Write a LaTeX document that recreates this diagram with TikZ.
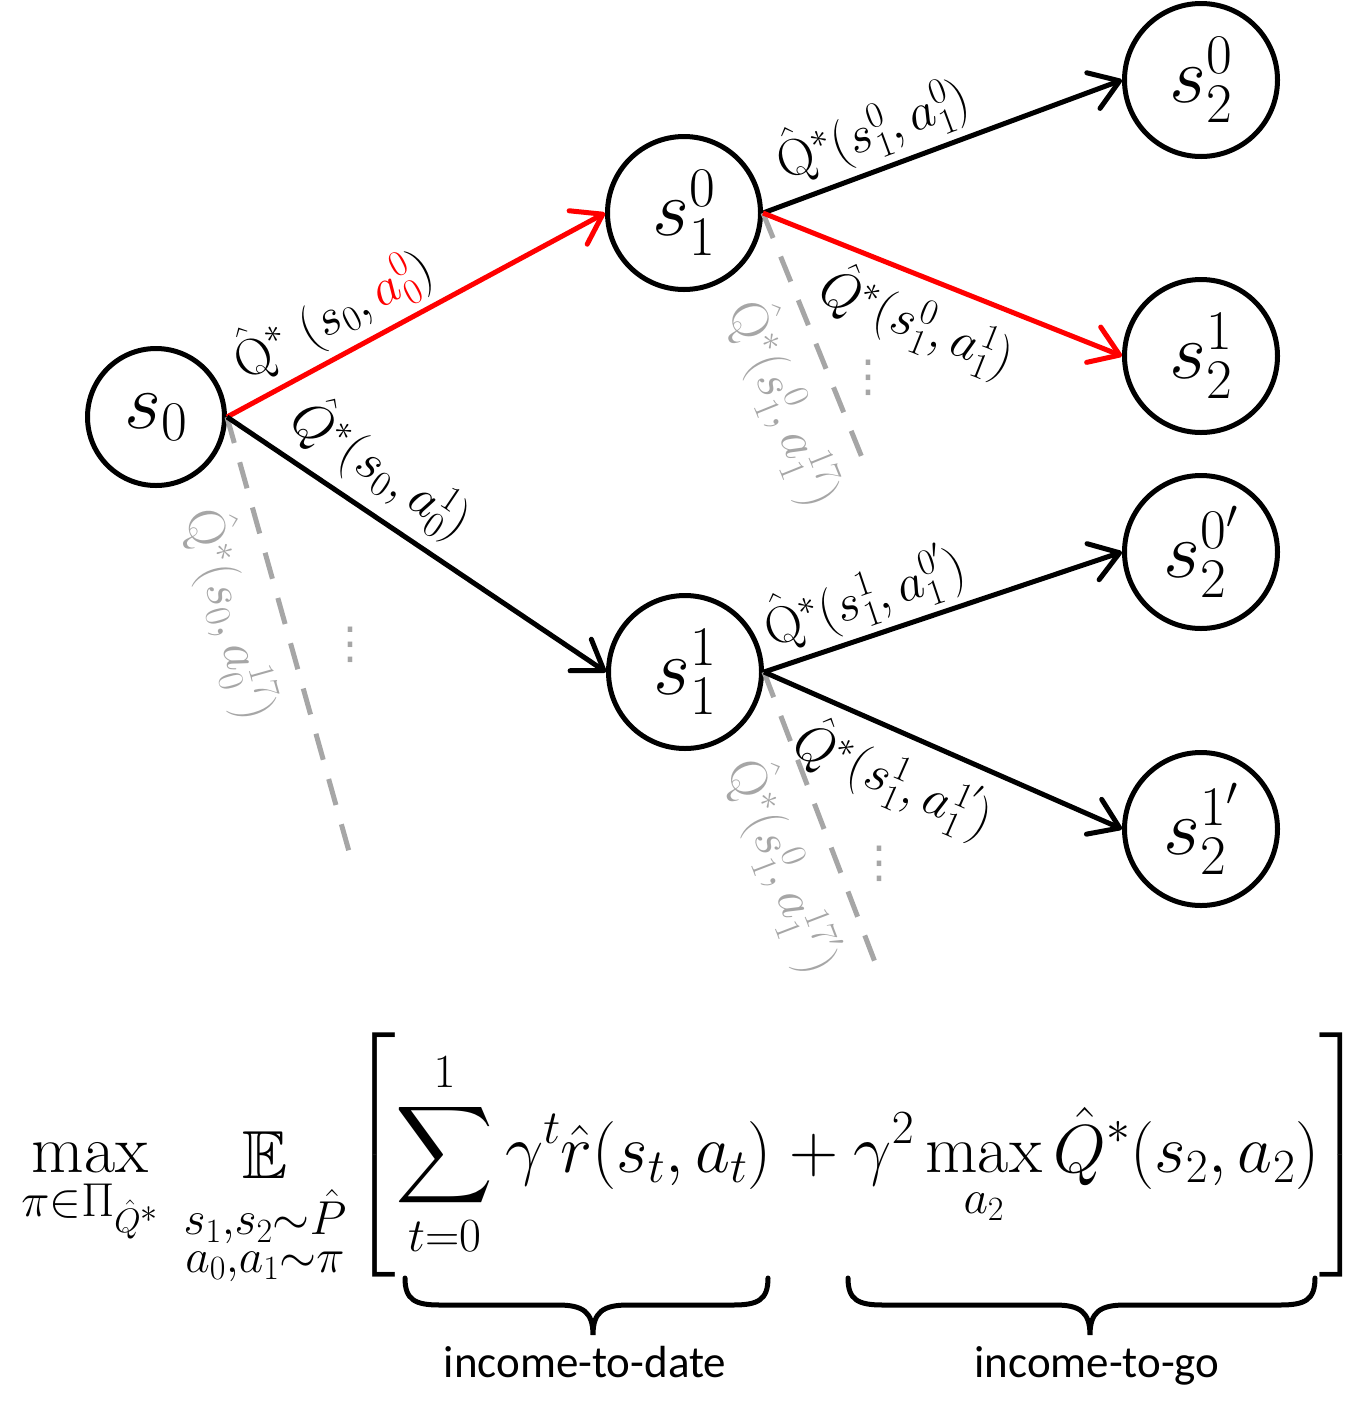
\RequirePackage{fix-cm}
\documentclass[tikz,border=0pt]{standalone}
\usepackage{amsmath,amssymb}
\usepackage{fontspec}
\newfontfamily\carlito{Carlito}
\newfontfamily\dejavu{DejaVu Sans}
\usetikzlibrary{arrows.meta}
\definecolor{gr}{RGB}{166,166,166}
\begin{document}
\begin{tikzpicture}[x=1pt,y=-1pt,
  state/.style={circle, draw, line width=5pt, inner sep=0pt, font=\fontsize{80}{82}\selectfont},
  smallstate/.style={state, minimum size=137pt},
  bigstate/.style={state, minimum size=153pt},
  edge/.style={line width=5pt, -{Straight Barb[length=28pt,width=38pt,round]}},
  dashline/.style={line width=5pt, draw=gr, dash pattern=on 27pt off 20pt},
  lbl/.style={font=\fontsize{52}{54}\selectfont, sloped, inner sep=2pt, text=black},
  glbl/.style={lbl, text=gr},
  dotsnode/.style={text=gr, font=\dejavu\fontsize{44}{44}\selectfont, inner sep=0pt},
  eq/.style={font=\fontsize{68}{80}\selectfont, inner sep=0pt},
  bracestyle/.style={line width=5pt, line cap=round},
  bracelbl/.style={font=\carlito\fontsize{45}{50}\selectfont, anchor=base, inner sep=0pt}]
\useasboundingbox (0,0) rectangle (1366,1417);

% states
\node[smallstate] (s0) at (156,417) {$s_0$};
\node[bigstate] (s10) at (684,213) {$s_1^0$};
\node[bigstate] (s11) at (685,672) {$s_1^1$};
\node[bigstate] (s20) at (1201,80) {$s_2^0$};
\node[bigstate] (s21) at (1201,356) {$s_2^1$};
\node[bigstate] (s20p) at (1201,552) {$s_2^{0'}$};
\node[bigstate] (s21p) at (1201,829) {$s_2^{1'}$};

% dashed ends
\coordinate (d0) at (350,855);
\coordinate (d10) at (865,465);
\coordinate (d11) at (878,970);

% dashed branches
\draw[dashline] (s0.east) -- node[glbl, below=12pt, pos=0.42] {$\hat{\mathrm{Q}}^*(s_0,a_0^{17})$} (d0);
\draw[dashline] (s10.east) -- node[glbl, below=14pt, pos=0.68] {$\hat{\mathrm{Q}}^*(s_1^0,a_1^{17})$} (d10);
\draw[dashline] (s11.east) -- node[glbl, below=14pt, pos=0.59] {$\hat{\mathrm{Q}}^*(s_1^0,a_1^{17'})$} (d11);

% edges
\draw[edge, red] (s0.east) -- node[lbl, above=5pt, pos=0.33] {$\hat{\mathrm{Q}}^*\ (s_0,\textcolor{red}{a_0^0})$} (s10.west);
\draw[edge] (s0.east) -- node[lbl, above=9pt, pos=0.345] {$\hat{Q}^*(s_0,a_0^1)$} (s11.west);
\draw[edge] (s10.east) -- node[lbl, above=5pt, pos=0.345] {$\hat{\mathrm{Q}}^*(s_1^0,a_1^0)$} (s20.west);
\draw[edge, red] (s10.east) -- node[lbl, below=8pt, pos=0.475] {$\hat{Q}^*(s_1^0,a_1^1)$} (s21.west);
\draw[edge] (s11.east) -- node[lbl, above=4pt, pos=0.315] {$\hat{\mathrm{Q}}^*(s_1^1,a_1^{0'})$} (s20p.west);
\draw[edge] (s11.east) -- node[lbl, below=10pt, pos=0.415] {$\hat{Q}^*(s_1^1,a_1^{1'})$} (s21p.west);

% vertical dots
\node[dotsnode] (dots0) at (350,645) {⋮};
\node[dotsnode] (dots10) at (868,378) {⋮};
\node[dotsnode] (dots11) at (879,864) {⋮};

% formula
\node[eq, anchor=base] (maxop) at (90,1172) {$\displaystyle\max_{\pi\in\Pi_{\hat Q^*}}$};
\node[eq, anchor=base] (expop) at (265,1172) {$\displaystyle\mathop{\mathbb{E}}_{\substack{s_1,s_2\sim\hat P\\ a_0,a_1\sim\pi}}$};
\node[eq, anchor=base west] (todate) at (350,1172) {$\displaystyle\left[\sum_{t=0}^{1}\gamma^t\hat r(s_t,a_t)\right.$};
\node[eq, anchor=base east] (togo) at (1365,1172) {$\displaystyle\left.\vphantom{\sum_{t=0}^{1}}{}+\gamma^2\max_{a_2}\hat Q^*(s_2,a_2)\right]$};

% braces
\draw[bracestyle] (405,1278) .. controls (405,1300) and (415,1305) .. (440,1305) -- (558,1305) .. controls (583,1305) and (593,1312) .. (593,1335) .. controls (593,1312) and (603,1305) .. (628,1305) -- (733,1305) .. controls (758,1305) and (768,1300) .. (768,1278);
\draw[bracestyle] (848,1278) .. controls (848,1300) and (858,1305) .. (883,1305) -- (1055,1305) .. controls (1080,1305) and (1090,1312) .. (1090,1335) .. controls (1090,1312) and (1100,1305) .. (1125,1305) -- (1280,1305) .. controls (1305,1305) and (1315,1300) .. (1315,1278);

\node[bracelbl] (ltd) at (585,1377) {income-to-date};
\node[bracelbl] (ltg) at (1097,1377) {income-to-go};
\end{tikzpicture}
\end{document}
